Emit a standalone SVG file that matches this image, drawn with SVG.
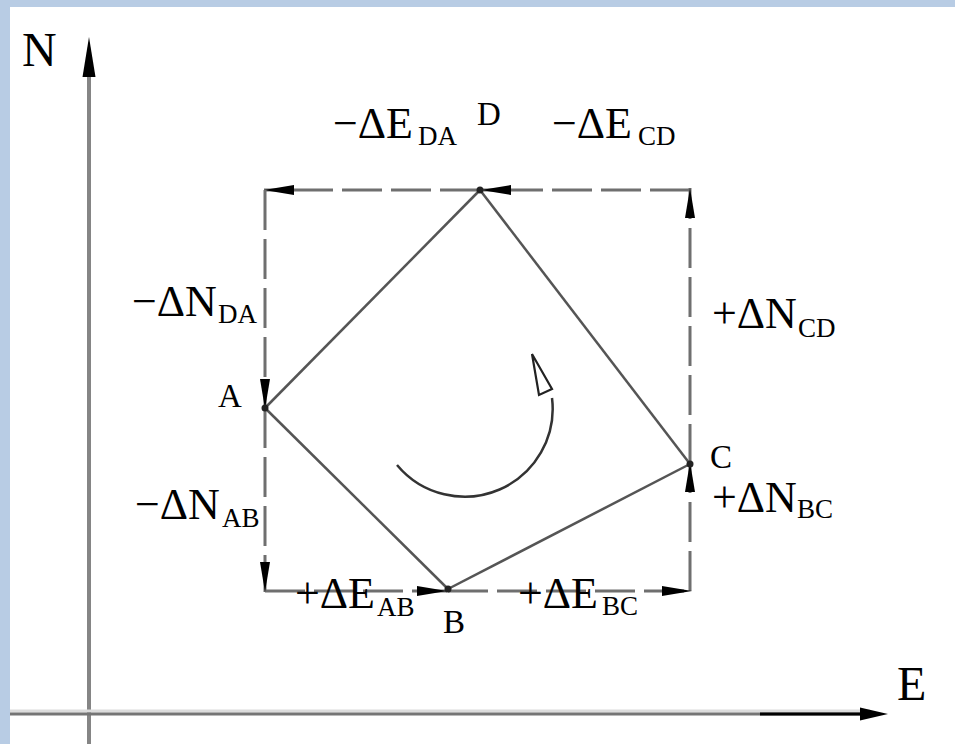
<svg xmlns="http://www.w3.org/2000/svg" width="955" height="744" viewBox="0 0 955 744">
<style>
  text { font-family: "Liberation Serif", "Times New Roman", serif; fill: #000; }
  .big { font-size: 44px; }
  .sub { font-size: 27px; }
  .pt { font-size: 33px; }
  .ax { font-size: 48px; }
  .dash { stroke: #6f6f6f; stroke-width: 3; stroke-dasharray: 40 9; fill: none; marker-end: url(#ah); }
  .side { stroke: #555; stroke-width: 2.5; fill: none; }
  .axis { stroke: #858585; stroke-width: 4; fill: none; }
  .dot { fill: #222; }
</style>
<defs>
  <marker id="ah" viewBox="0 0 30 10" markerWidth="30" markerHeight="10" refX="30" refY="5" markerUnits="userSpaceOnUse" orient="auto">
    <path d="M0,0 L30,5 L0,10 Z" fill="#000" stroke="none"/>
  </marker>
</defs>

<rect x="0" y="0" width="955" height="744" fill="#fff"/>
<rect x="0" y="0" width="955" height="7" fill="#b8cce4"/>
<rect x="0" y="0" width="10" height="744" fill="#b8cce4"/>

<g id="axes">
  <line class="axis" x1="89" y1="74" x2="89" y2="744"/>
  <path d="M89,37 L95.5,77 L82.5,77 Z" fill="#000"/>
  <line x1="10" y1="711" x2="870" y2="711" stroke="#dcdcdc" stroke-width="3"/>
  <line x1="10" y1="714" x2="866" y2="714" stroke="#757575" stroke-width="3"/>
  <line x1="760" y1="714" x2="866" y2="714" stroke="#000" stroke-width="3"/>
  <path d="M888,714 L860,707.5 L860,720.5 Z" fill="#000"/>
  <text class="ax" x="22" y="66">N</text>
  <text class="ax" x="897" y="700">E</text>
</g>

<g id="connectors">
  <line class="side" x1="265" y1="408" x2="480" y2="190"/>
  <line class="side" x1="480" y1="190" x2="690" y2="464"/>
  <line class="side" x1="690" y1="464" x2="448" y2="589"/>
  <line class="side" x1="448" y1="589" x2="265" y2="408"/>

  <line class="dash" x1="480" y1="190" x2="264" y2="190"/>
  <line class="dash" x1="690" y1="190" x2="481" y2="190"/>
  <line class="dash" x1="690" y1="464" x2="690" y2="188"/>
  <line class="dash" x1="690" y1="591" x2="690" y2="462"/>
  <line class="dash" x1="448" y1="591" x2="692" y2="591"/>
  <line class="dash" x1="265" y1="591" x2="447" y2="591"/>
  <line class="dash" x1="265" y1="408" x2="265" y2="592"/>
  <line class="dash" x1="265" y1="190" x2="265" y2="409"/>

  <path d="M397,465 A88,88 0 0 0 552,398" fill="none" stroke="#333" stroke-width="2.5"/>
  <polygon points="532,354 539,395 552,389" fill="none" stroke="#222" stroke-width="2.2" stroke-linejoin="miter"/>
</g>

<g id="labels">
  <text class="big" x="333" y="138">−ΔE</text><text class="sub" x="418" y="145">DA</text>
  <text class="big" x="552" y="138">−ΔE</text><text class="sub" x="638" y="145">CD</text>
  <text class="big" x="132" y="316">−ΔN</text><text class="sub" x="218" y="323">DA</text>
  <text class="big" x="135" y="519">−ΔN</text><text class="sub" x="222" y="527">AB</text>
  <text class="big" x="712" y="328">+ΔN</text><text class="sub" x="798" y="337">CD</text>
  <text class="big" x="712" y="512" font-size="42">+ΔN</text><text class="sub" x="797" y="518">BC</text>
  <text class="big" x="295" y="608">+ΔE</text><text class="sub" x="377" y="616">AB</text>
  <text class="big" x="518" y="608">+ΔE</text><text class="sub" x="602" y="615">BC</text>
</g>

<g id="node-A">
  <circle class="dot" cx="265" cy="408" r="3.5"/>
  <text class="pt" x="218" y="407">A</text>
</g>
<g id="node-B">
  <circle class="dot" cx="448" cy="589" r="3.5"/>
  <text class="pt" x="443" y="633">B</text>
</g>
<g id="node-C">
  <circle class="dot" cx="690" cy="464" r="3.5"/>
  <text class="pt" x="710" y="468" font-size="30">C</text>
</g>
<g id="node-D">
  <circle class="dot" cx="480" cy="190" r="3.5"/>
  <text class="pt" x="477" y="125">D</text>
</g>
</svg>
